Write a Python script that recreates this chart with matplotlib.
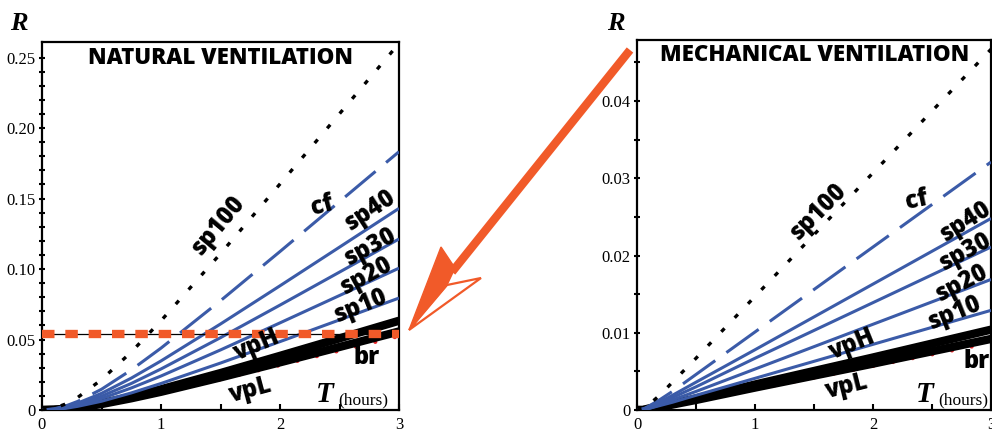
import numpy as np
import matplotlib.pyplot as plt
from matplotlib.lines import Line2D
from matplotlib.patches import Polygon

W, H = 992, 432

# values (R against T in hours)
T_nat = [0, 0.1, 0.2, 0.3, 0.5, 0.75, 1, 1.5, 2, 2.5, 3]
nat_sp100 = [0, 0.0012, 0.0043, 0.0089, 0.0215, 0.0411, 0.0633, 0.1109, 0.1603, 0.2101, 0.2600]
nat_cf = [0, 0.0008, 0.0029, 0.0061, 0.0147, 0.0284, 0.0439, 0.0775, 0.1124, 0.1478, 0.1832]
nat_sp40 = [0, 0.0006, 0.0023, 0.0049, 0.0118, 0.0226, 0.0348, 0.0610, 0.0881, 0.1155, 0.1430]
nat_sp30 = [0, 0.0005, 0.0019, 0.0040, 0.0098, 0.0188, 0.0291, 0.0513, 0.0744, 0.0978, 0.1213]
nat_sp20 = [0, 0.0004, 0.0016, 0.0033, 0.0081, 0.0156, 0.0241, 0.0426, 0.0618, 0.0812, 0.1006]
nat_sp10 = [0, 0.0003, 0.0012, 0.0026, 0.0062, 0.0121, 0.0188, 0.0333, 0.0485, 0.0639, 0.0794]
nat_vpH = [0, 0.0002, 0.0009, 0.0020, 0.0048, 0.0094, 0.0147, 0.0262, 0.0384, 0.0508, 0.0633]
nat_vpL = [0, 0.0002, 0.0008, 0.0017, 0.0042, 0.0083, 0.0129, 0.0231, 0.0338, 0.0447, 0.0557]
nat_br = [0, 0.0002, 0.0008, 0.0016, 0.0040, 0.0078, 0.0121, 0.0217, 0.0318, 0.0421, 0.0524]
nat_level = 0.054

T_mech = [0, 0.05, 0.1, 0.2, 0.3, 0.5, 1, 2, 3]
mech_sp100 = [0, 0.0002, 0.0007, 0.0020, 0.0036, 0.0067, 0.0147, 0.0307, 0.0467]
mech_cf = [0, 0.0001, 0.0005, 0.0014, 0.0024, 0.0046, 0.0101, 0.0211, 0.0321]
mech_sp40 = [0, 0.0001, 0.0004, 0.0011, 0.0019, 0.0036, 0.0078, 0.0163, 0.0248]
mech_sp30 = [0, 0.0001, 0.0003, 0.0009, 0.0016, 0.0030, 0.0067, 0.0139, 0.0211]
mech_sp20 = [0, 0.0001, 0.0002, 0.0007, 0.0013, 0.0024, 0.0053, 0.0111, 0.0169]
mech_sp10 = [0, 0.0001, 0.0002, 0.0006, 0.0010, 0.0019, 0.0041, 0.0085, 0.0129]
mech_vpH = [0, 0.0000, 0.0002, 0.0005, 0.0008, 0.0015, 0.0033, 0.0068, 0.0104]
mech_vpL = [0, 0.0000, 0.0001, 0.0004, 0.0007, 0.0013, 0.0029, 0.0060, 0.0092]
mech_br = [0, 0.0000, 0.0001, 0.0004, 0.0007, 0.0013, 0.0027, 0.0057, 0.0087]

BLUE = '#3b5ba8'
ORANGE = '#f15a29'
RED = '#e8262a'
SANS = 'Open Sans'
SERIF = 'Liberation Serif'


def px(x, y):
    # figure pixel (from top-left) -> figure fraction
    return x / W, 1 - y / H


def draw_panel(ax, T, sp100, cf, sp40, sp30, sp20, sp10, vpH, vpL, br, ymax, ymajor, yminor, ylabels):
    ax.plot(T, br, color=RED, lw=3, ls=(0, (0.01, 4.8)), dash_capstyle='round', zorder=2)
    ax.plot(T, vpL, color='k', lw=6, solid_capstyle='butt', zorder=3)
    ax.plot(T, vpH, color='k', lw=6, solid_capstyle='butt', zorder=3)
    for ys in (sp10, sp20, sp30, sp40):
        ax.plot(T, ys, color=BLUE, lw=2.2, solid_capstyle='butt', zorder=4)
    ax.plot(T, cf, color=BLUE, lw=2.2, ls=(0, (13, 4.5)), zorder=4)
    ax.plot(T, sp100, color='k', lw=2.4, ls=(0, (1.4, 4.4)), zorder=5)

    ax.set_xlim(0, 3)
    ax.set_ylim(0, ymax)
    ax.set_xticks([0, 1, 2, 3])
    ax.set_xticks([0.5, 1.5, 2.5], minor=True)
    ax.set_yticks(ymajor)
    ax.set_yticklabels(ylabels)
    ax.set_yticks(yminor, minor=True)
    ax.tick_params(axis='x', which='both', direction='in', length=4, width=1.5, pad=5)
    ax.tick_params(axis='y', which='both', direction='inout', length=5, width=1.5, pad=2)
    for lab in ax.get_xticklabels() + ax.get_yticklabels():
        lab.set_fontfamily(SERIF)
        lab.set_fontsize(12)
    for s in ax.spines.values():
        s.set_linewidth(1.6)


fig = plt.figure(figsize=(W / 100, H / 100), dpi=100)

ax1 = fig.add_axes([42 / W, 1 - 410 / H, 357 / W, 368 / H])
draw_panel(ax1, T_nat, nat_sp100, nat_cf, nat_sp40, nat_sp30, nat_sp20, nat_sp10,
           nat_vpH, nat_vpL, nat_br, 0.261,
           [0, 0.05, 0.10, 0.15, 0.20, 0.25], np.arange(0, 0.26, 0.01),
           ['0', '0.05', '0.10', '0.15', '0.20', '0.25'])
ax1.axhline(nat_level, color='k', lw=0.9, zorder=6)
ax1.axhline(nat_level, color=ORANGE, lw=6, ls=(0, (1.5, 1.3)), zorder=7)

ax2 = fig.add_axes([637 / W, 1 - 410 / H, 354 / W, 370 / H])
draw_panel(ax2, T_mech, mech_sp100, mech_cf, mech_sp40, mech_sp30, mech_sp20, mech_sp10,
           mech_vpH, mech_vpL, mech_br, 0.0479,
           [0, 0.01, 0.02, 0.03, 0.04], np.arange(0, 0.046, 0.005),
           ['0', '0.01', '0.02', '0.03', '0.04'])

# titles and axis letters
fig.text(*px(221, 58), 'NATURAL VENTILATION', family=SANS, weight='heavy', fontsize=16,
         ha='center', va='center')
fig.text(*px(815, 55), 'MECHANICAL VENTILATION', family=SANS, weight='heavy', fontsize=16,
         ha='center', va='center')
for xr in (19, 616):
    fig.text(*px(xr, 24), 'R', family=SERIF, weight='bold', style='italic', fontsize=19,
             ha='center', va='center')
for xt in (325, 925):
    fig.text(*px(xt, 394), 'T', family=SERIF, weight='bold', style='italic', fontsize=21,
             ha='center', va='center')
    fig.text(*px(xt + 13, 400), '(hours)', family=SERIF, fontsize=12.5, ha='left', va='center')

# curve labels: (text, x, y, angle)
nat_labels = [('sp100', 218, 225, 50), ('cf', 322, 206, 15), ('sp40', 370, 210, 33),
              ('sp30', 370, 247, 28), ('sp20', 366, 276, 28), ('sp10', 361, 306, 22),
              ('vpH', 257, 345, 23), ('vpL', 251, 390, 15), ('br', 367, 357, 0)]
mech_labels = [('sp100', 818, 212, 45), ('cf', 917, 200, 12), ('sp40', 966, 222, 32),
               ('sp30', 965, 252, 28), ('sp20', 962, 283, 27), ('sp10', 955, 313, 22),
               ('vpH', 852, 344, 22), ('vpL', 847, 387, 14), ('br', 977, 362, 0)]
for txt, x, y, ang in nat_labels + mech_labels:
    fig.text(*px(x, y), txt, family=SANS, weight='heavy', fontsize=17, rotation=ang,
             ha='center', va='center', rotation_mode='anchor')

# orange arrow from right panel to the threshold line
shaft = Line2D([630 / W, 452 / W], [1 - 50 / H, 1 - 272 / H], color=ORANGE, lw=6,
               solid_capstyle='butt', transform=fig.transFigure)
fig.add_artist(shaft)
head_fill = Polygon([px(409, 330), px(441, 247), px(455, 268), px(447, 285)], closed=True,
                    facecolor=ORANGE, edgecolor=ORANGE, lw=1, transform=fig.transFigure)
head_open = Polygon([px(409, 330), px(447, 285), px(481, 278)], closed=True,
                    facecolor='white', edgecolor=ORANGE, lw=1.6, transform=fig.transFigure)
fig.add_artist(head_open)
fig.add_artist(head_fill)

fig.savefig('out.png', dpi=100)
